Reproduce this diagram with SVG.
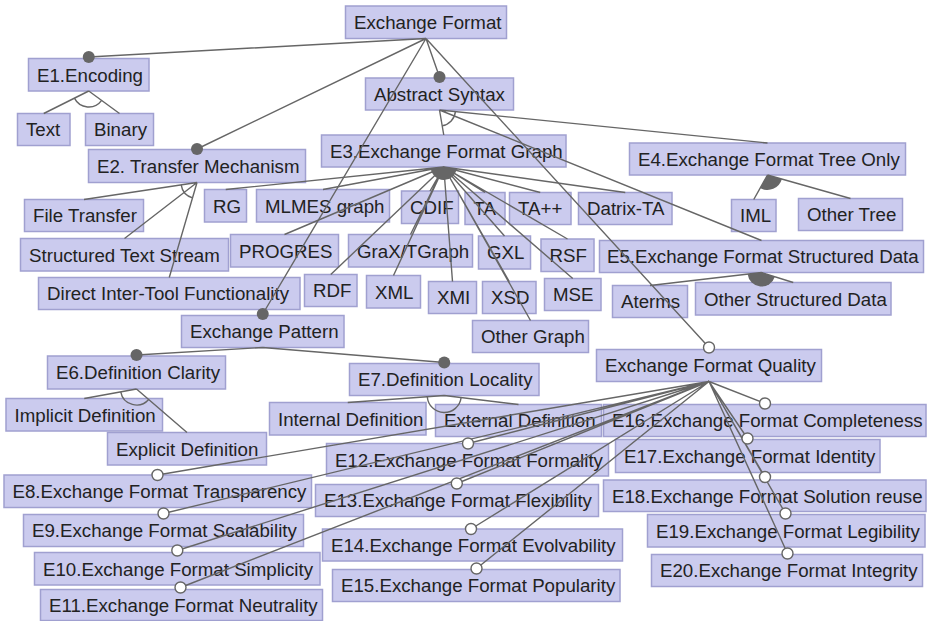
<svg xmlns="http://www.w3.org/2000/svg" width="929" height="621" viewBox="0 0 929 621">
<style>
.n rect{fill:#cbcbee;stroke:#a0a0d0;stroke-width:1.5}
.n text{font-family:"Liberation Sans",Arial,Helvetica,sans-serif;font-size:18.7px;fill:#222}
.c path{fill:none;stroke:#666;stroke-width:1.4}
.c .or{fill:#666;stroke:none}
.c .arc{fill:none;stroke:#666;stroke-width:1.4}
.c .dot{fill:#666;stroke:none}
.c .opt{fill:#fff;stroke:#666;stroke-width:1.4}
</style>
<rect width="929" height="621" fill="#fff"/>
<g id="nodes">
<g id="root" class="n"><rect x="345.5" y="6" width="161" height="32.5"/><text x="354" y="29">Exchange Format</text></g>
<g id="e1" class="n"><rect x="28.5" y="58.5" width="120.5" height="32.5"/><text x="37" y="81.5">E1.Encoding</text></g>
<g id="text" class="n"><rect x="17.5" y="113.5" width="52.5" height="32"/><text x="26" y="136.2">Text</text></g>
<g id="binary" class="n"><rect x="85.5" y="113.5" width="68" height="32"/><text x="94" y="136.2">Binary</text></g>
<g id="abstract" class="n"><rect x="365.5" y="78" width="148" height="32"/><text x="374" y="100.7">Abstract Syntax</text></g>
<g id="e2" class="n"><rect x="88.5" y="149.5" width="217" height="33"/><text x="97" y="172.7">E2. Transfer Mechanism</text></g>
<g id="e3" class="n"><rect x="321.5" y="135" width="244.5" height="32"/><text x="330" y="157.7">E3.Exchange Format Graph</text></g>
<g id="e4" class="n"><rect x="629.5" y="143" width="276" height="32"/><text x="638" y="165.7">E4.Exchange Format Tree Only</text></g>
<g id="iml" class="n"><rect x="731.5" y="199.5" width="44.5" height="32"/><text x="740" y="222.2">IML</text></g>
<g id="othertree" class="n"><rect x="798.5" y="198.5" width="104" height="32"/><text x="807" y="221.2">Other Tree</text></g>
<g id="filetransfer" class="n"><rect x="24.5" y="199.5" width="119" height="32"/><text x="33" y="222.2">File Transfer</text></g>
<g id="sts" class="n"><rect x="20.5" y="238.5" width="208" height="32.5"/><text x="29" y="261.5">Structured Text Stream</text></g>
<g id="ditf" class="n"><rect x="38.5" y="277.5" width="261.5" height="32"/><text x="47" y="300.2">Direct Inter-Tool Functionality</text></g>
<g id="rg" class="n"><rect x="204.5" y="189.5" width="42" height="32.5"/><text x="213" y="212.5">RG</text></g>
<g id="mlmes" class="n"><rect x="256.5" y="189.5" width="133" height="32.5"/><text x="265" y="212.5">MLMES graph</text></g>
<g id="cdif" class="n"><rect x="401.5" y="191" width="57" height="32.5"/><text x="410" y="214">CDIF</text></g>
<g id="ta" class="n"><rect x="465" y="192.5" width="40" height="32"/><text x="473.5" y="215.2">TA</text></g>
<g id="tapp" class="n"><rect x="509.5" y="192.5" width="61.5" height="32"/><text x="518" y="215.2">TA++</text></g>
<g id="datrix" class="n"><rect x="578.5" y="192.5" width="93.5" height="32"/><text x="587" y="215.2">Datrix-TA</text></g>
<g id="progres" class="n"><rect x="230.5" y="234.5" width="108" height="32.5"/><text x="239" y="257.5">PROGRES</text></g>
<g id="grax" class="n"><rect x="348.5" y="234.5" width="124" height="32.5"/><text x="357" y="257.5">GraX/TGraph</text></g>
<g id="gxl" class="n"><rect x="478.5" y="236" width="52" height="33"/><text x="487" y="259.2">GXL</text></g>
<g id="rsf" class="n"><rect x="541" y="239" width="53" height="32.5"/><text x="549.5" y="262">RSF</text></g>
<g id="rdf" class="n"><rect x="304.5" y="274.5" width="52.5" height="32"/><text x="313" y="297.2">RDF</text></g>
<g id="xml" class="n"><rect x="366.5" y="275.5" width="54" height="32.5"/><text x="375" y="298.5">XML</text></g>
<g id="xmi" class="n"><rect x="428.5" y="281.5" width="48" height="32"/><text x="437" y="304.2">XMI</text></g>
<g id="xsd" class="n"><rect x="482.5" y="281.5" width="53.5" height="32"/><text x="491" y="304.2">XSD</text></g>
<g id="mse" class="n"><rect x="544.5" y="278.5" width="56.5" height="32"/><text x="553" y="301.2">MSE</text></g>
<g id="othergraph" class="n"><rect x="472.5" y="320.5" width="116" height="32"/><text x="481" y="343.2">Other Graph</text></g>
<g id="e5" class="n"><rect x="599.5" y="240.5" width="324" height="32"/><text x="607" y="263.2">E5.Exchange Format Structured Data</text></g>
<g id="aterms" class="n"><rect x="612.5" y="285.5" width="75" height="32"/><text x="621" y="308.2">Aterms</text></g>
<g id="osd" class="n"><rect x="695.5" y="282.5" width="195.5" height="32.5"/><text x="704" y="305.5">Other Structured Data</text></g>
<g id="pattern" class="n"><rect x="181.5" y="315.5" width="162.5" height="32"/><text x="190" y="338.2">Exchange Pattern</text></g>
<g id="e6" class="n"><rect x="47.5" y="356" width="178" height="33"/><text x="56" y="379.2">E6.Definition Clarity</text></g>
<g id="e7" class="n"><rect x="349.5" y="363.5" width="189.5" height="32"/><text x="358" y="386.2">E7.Definition Locality</text></g>
<g id="implicit" class="n"><rect x="6" y="398.5" width="156.5" height="32.5"/><text x="14.5" y="421.5">Implicit Definition</text></g>
<g id="explicit" class="n"><rect x="107.5" y="432.5" width="159" height="32.5"/><text x="116" y="455.5">Explicit Definition</text></g>
<g id="internal" class="n"><rect x="269.5" y="402.5" width="156.5" height="32.5"/><text x="278" y="425.5">Internal Definition</text></g>
<g id="external" class="n"><rect x="435.5" y="404.5" width="166" height="32"/><text x="444" y="427.2">External Definition</text></g>
<g id="quality" class="n"><rect x="596.5" y="349.5" width="225" height="32"/><text x="605" y="372.2">Exchange Format Quality</text></g>
<g id="e8" class="n"><rect x="4" y="475" width="307.5" height="32.5"/><text x="12.5" y="498">E8.Exchange Format Transparency</text></g>
<g id="e9" class="n"><rect x="23.5" y="514.5" width="280" height="32"/><text x="32" y="537.2">E9.Exchange Format Scalability</text></g>
<g id="e10" class="n"><rect x="34.5" y="552.5" width="285.5" height="32.5"/><text x="43" y="575.5">E10.Exchange Format Simplicity</text></g>
<g id="e11" class="n"><rect x="40.5" y="589.5" width="282" height="31"/><text x="49" y="611.7">E11.Exchange Format Neutrality</text></g>
<g id="e12" class="n"><rect x="326.5" y="443.5" width="282" height="32.5"/><text x="335" y="466.5">E12.Exchange Format Formality</text></g>
<g id="e13" class="n"><rect x="315.5" y="484.5" width="283" height="32"/><text x="324" y="507.2">E13.Exchange Format Flexibility</text></g>
<g id="e14" class="n"><rect x="322.5" y="529" width="300" height="32"/><text x="331" y="551.7">E14.Exchange Format Evolvability</text></g>
<g id="e15" class="n"><rect x="332.5" y="569.5" width="287.5" height="32"/><text x="341" y="592.2">E15.Exchange Format Popularity</text></g>
<g id="e16" class="n"><rect x="603.5" y="404.5" width="322.5" height="32"/><text x="612" y="427.2">E16.Exchange Format Completeness</text></g>
<g id="e17" class="n"><rect x="615.5" y="439.5" width="264.5" height="33"/><text x="624" y="462.7">E17.Exchange Format Identity</text></g>
<g id="e18" class="n"><rect x="603.5" y="480" width="322.5" height="31.5"/><text x="612" y="502.5">E18.Exchange Format Solution reuse</text></g>
<g id="e19" class="n"><rect x="647.5" y="514.5" width="277.5" height="32.5"/><text x="656" y="537.5">E19.Exchange Format Legibility</text></g>
<g id="e20" class="n"><rect x="651.5" y="554.5" width="271" height="32"/><text x="660" y="577.2">E20.Exchange Format Integrity</text></g>
</g>
<g id="connectors" class="c">
<path d="M426,38.5L88.75,57M426,38.5L197,149M426,38.5L439.5,77M426,38.5L262.75,314M426,38.5L709,347.5"/>
<path d="M88.75,91L43.75,113.5M88.75,91L119.5,113.5"/>
<path d="M439.5,110L443.75,135M439.5,110L767.5,143M439.5,110L761.5,240.5"/>
<path d="M197,182.5L84,199.5M197,182.5L124.5,238.5M197,182.5L169.25,277.5"/>
<path d="M443.75,167L225.75,189.5M443.75,167L323,189.5M443.75,167L430,191M443.75,167L485,192.5M443.75,167L540.25,192.5M443.75,167L625.25,192.5M443.75,167L284.5,234.5M443.75,167L410.5,234.5M443.75,167L504.5,236M443.75,167L567.5,239M443.75,167L330.75,274.5M443.75,167L393.5,275.5M443.75,167L452.5,281.5M443.75,167L509.25,281.5M443.75,167L572.75,278.5M443.75,167L530.5,320.5"/>
<path d="M767.5,175L753.75,199.5M767.5,175L850.5,198.5"/>
<path d="M761.5,272.5L650,285.5M761.5,272.5L793.25,282.5"/>
<path d="M262.75,347.5L136.5,355M262.75,347.5L444.25,362.5"/>
<path d="M136.5,389L84.25,398.5M136.5,389L187,432.5"/>
<path d="M444.25,395.5L347.75,402.5M444.25,395.5L518.5,404.5"/>
<path d="M709,381.5L157.5,475M709,381.5L163.5,513.5M709,381.5L177.3,550.5M709,381.5L180.5,587.5M709,381.5L468,443.5M709,381.5L456.8,483.5M709,381.5L471,529M709,381.5L476.5,568.5M709,381.5L765,403.5M709,381.5L747.5,438.5M709,381.5L765,477M709,381.5L785.5,513.5M709,381.5L787.5,553.5"/>
<path class="arc" d="M101.66,100.45A16,16 0 0 1 74.44,98.17"/>
<path class="arc" d="M192.51,197.86A16,16 0 0 1 181.18,184.89"/>
<path class="arc" d="M455.42,111.59A16,16 0 0 1 442.17,125.78"/>
<path class="arc" d="M148.63,399.43A16,16 0 0 1 120.76,391.86"/>
<path class="arc" d="M461.13,397.54A17,17 0 0 1 427.29,396.72"/>
<path class="or" d="M443.75,167L456.62,168.81A13,13 0 0 1 430.82,168.34Z"/>
<path class="or" d="M767.5,175L781.93,179.08A15,15 0 0 1 760.16,188.08Z"/>
<path class="or" d="M761.5,272.5L774.85,276.71A14,14 0 0 1 747.59,274.11Z"/>
<circle class="dot" cx="88.75" cy="57" r="6"/>
<circle class="dot" cx="197" cy="149" r="6"/>
<circle class="dot" cx="439.5" cy="77" r="6"/>
<circle class="dot" cx="262.75" cy="314" r="6"/>
<circle class="dot" cx="136.5" cy="355" r="6"/>
<circle class="dot" cx="444.25" cy="362.5" r="6"/>
<circle class="opt" cx="709" cy="347.5" r="5.5"/>
<circle class="opt" cx="157.5" cy="475" r="5.5"/>
<circle class="opt" cx="163.5" cy="513.5" r="5.5"/>
<circle class="opt" cx="177.3" cy="550.5" r="5.5"/>
<circle class="opt" cx="180.5" cy="587.5" r="5.5"/>
<circle class="opt" cx="468" cy="443.5" r="5.5"/>
<circle class="opt" cx="456.8" cy="483.5" r="5.5"/>
<circle class="opt" cx="471" cy="529" r="5.5"/>
<circle class="opt" cx="476.5" cy="568.5" r="5.5"/>
<circle class="opt" cx="765" cy="403.5" r="5.5"/>
<circle class="opt" cx="747.5" cy="438.5" r="5.5"/>
<circle class="opt" cx="765" cy="477" r="5.5"/>
<circle class="opt" cx="785.5" cy="513.5" r="5.5"/>
<circle class="opt" cx="787.5" cy="553.5" r="5.5"/>
</g>
</svg>
